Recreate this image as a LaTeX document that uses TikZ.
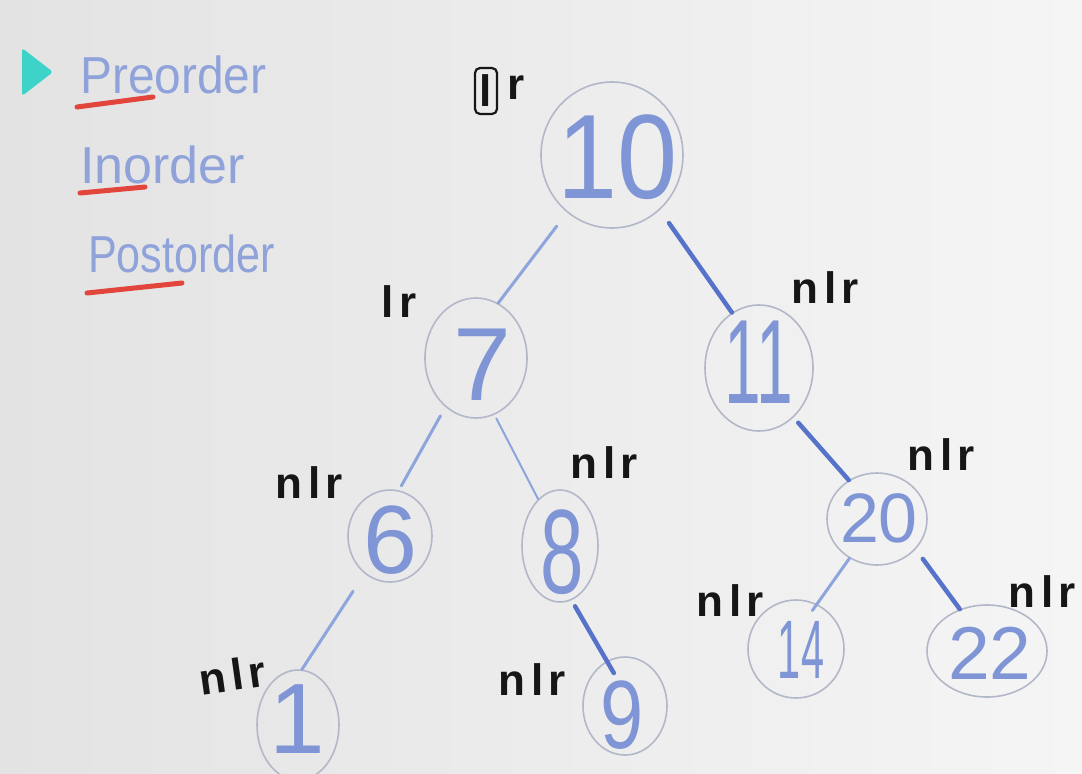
\documentclass[tikz,border=0pt]{standalone}
\usepackage{fontspec}
\setmainfont{Liberation Sans}
\usepackage{graphicx}
\usetikzlibrary{shapes.geometric}
\definecolor{bgA}{HTML}{E3E3E3}
\definecolor{bgB}{HTML}{F5F5F5}
\definecolor{ringc}{HTML}{B3B8C9}
\definecolor{numblue}{HTML}{7F95D6}
\definecolor{edgeD}{HTML}{5673C9}
\definecolor{edgeL}{HTML}{8CA5DD}
\definecolor{markc}{HTML}{161616}
\definecolor{redline}{HTML}{E2453B}
\definecolor{cyanmark}{HTML}{3DD3C9}
\definecolor{listblue}{HTML}{8FA3DA}
\newcommand\nlrtext{n\kern0.14em l\kern0.1em r}
\begin{document}
\begin{tikzpicture}[x=1pt,y=-1pt,
  ringnode/.style={ellipse, draw=ringc, line width=1.6pt, inner sep=0pt},
  num/.style={text=numblue, inner sep=0pt},
  edgedark/.style={draw=edgeD, line width=4.5pt, line cap=round},
  edgelight/.style={draw=edgeL, line width=3pt, line cap=round},
  tag/.style={text=markc, font=\bfseries\fontsize{44}{44}\selectfont, inner sep=0pt},
  listword/.style={text=listblue, font=\fontsize{52}{52}\selectfont, inner sep=0pt, anchor=base west},
  underl/.style={draw=redline, line width=5pt, line cap=round}]
\useasboundingbox (0,0) rectangle (1082,774);
\shade[left color=bgA, right color=bgB] (0,0) rectangle (1082,774);

% list
\fill[cyanmark, rounded corners=3pt] (22,48) -- (53,72) -- (22,96) -- cycle;
\node[listword] (w1) at (80,93) {\scalebox{0.92}[1]{Preorder}};
\node[listword] (w2) at (80,183) {Inorder};
\node[listword] (w3) at (88,272) {\scalebox{0.83}[1]{Postorder}};
\draw[underl] (77,107) -- (153,97);
\draw[underl] (80,193) -- (145,187);
\draw[underl] (87,293) -- (182,283);

% tree nodes
\node[ringnode, minimum width=142pt, minimum height=146pt,
  label={[num, font=\fontsize{120}{120}\selectfont, xshift=6pt, yshift=-2pt]center:\scalebox{0.9}[1]{10}}] (n10) at (612,155) {};
\node[ringnode, minimum width=102pt, minimum height=120pt,
  label={[num, font=\fontsize{104}{104}\selectfont, xshift=6pt, yshift=-7pt]center:7}] (n7) at (476,358) {};
\node[ringnode, minimum width=108pt, minimum height=126pt,
  label={[num, font=\fontsize{120}{120}\selectfont, yshift=6pt]center:\scalebox{0.55}[1]{11}}] (n11) at (759,368) {};
\node[ringnode, minimum width=84pt, minimum height=92pt,
  label={[num, font=\fontsize{97}{97}\selectfont, yshift=-4pt]center:6}] (n6) at (390,536) {};
\node[ringnode, minimum width=76pt, minimum height=112pt,
  label={[num, font=\fontsize{120}{120}\selectfont, xshift=2pt, yshift=-6pt]center:\scalebox{0.65}[1]{8}}] (n8) at (560,546) {};
\node[ringnode, minimum width=100pt, minimum height=92pt,
  label={[num, font=\fontsize{70}{70}\selectfont, xshift=2pt, yshift=1pt]center:20}] (n20) at (877,519) {};
\node[ringnode, minimum width=96pt, minimum height=98pt,
  label={[num, font=\fontsize{83}{83}\selectfont, xshift=5pt, yshift=-1pt]center:\scalebox{0.5}[1]{14}}] (n14) at (796,649) {};
\node[ringnode, minimum width=120pt, minimum height=92pt,
  label={[num, font=\fontsize{75}{75}\selectfont, xshift=3pt, yshift=-2pt]center:22}] (n22) at (987,651) {};
\node[ringnode, minimum width=82pt, minimum height=110pt,
  label={[num, font=\fontsize{100}{100}\selectfont, xshift=-1pt, yshift=6pt]center:1}] (n1) at (298,725) {};
\node[ringnode, minimum width=84pt, minimum height=98pt,
  label={[num, font=\fontsize{97}{97}\selectfont, xshift=-3pt, yshift=-9pt]center:\scalebox{0.8}[1]{9}}] (n9) at (625,706) {};

% connectors
\draw[edgelight, shorten <=17pt] (n10.232) -- (n7.68);
\draw[edgedark, shorten <=16pt] (n10.311) -- (n11.116);
\draw[edgelight, shorten <=10pt, shorten >=5pt] (n7.238) -- (n6.79);
\draw[edgelight, line width=2pt, shorten <=4pt] (n7.288) -- (n8.115);
\draw[edgelight, shorten <=21pt] (n6.236) -- (n1.86);
\draw[edgedark, shorten <=7pt, shorten >=-14pt] (n8.282) -- (n9.112);
\draw[edgedark, shorten <=7pt] (n11.305) -- (n20.126);
\draw[edgelight, shorten >=-8pt] (n20.235) -- (n14.65);
\draw[edgedark, shorten <=12pt] (n20.322) -- (n22.123);

% traversal marks
\node[tag, draw=markc, line width=2.2pt, rounded corners=5pt, minimum width=22pt, minimum height=46pt] (t10l) at (486,91) {l};
\node[tag] (t10r) at (516,88) {r};
\node[tag] (t7) at (399,302) {l\kern0.12em r};
\node[tag] (t11) at (825,288) {\nlrtext};
\node[tag] (t6) at (309,483) {\nlrtext};
\node[tag] (t8) at (604,463) {\nlrtext};
\node[tag] (t20) at (941,455) {\nlrtext};
\node[tag] (t14) at (730,601) {\nlrtext};
\node[tag] (t22) at (1042,592) {\nlrtext};
\node[tag, rotate=8] (t1) at (232,675) {\nlrtext};
\node[tag] (t9) at (532,680) {\nlrtext};
\end{tikzpicture}
\end{document}
